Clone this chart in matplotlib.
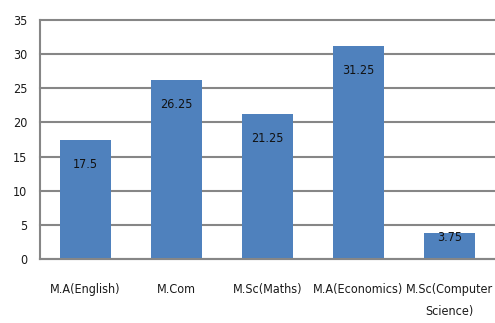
import matplotlib
matplotlib.use("Agg")
import matplotlib.pyplot as plt

# course wise values
courses = ["M.A(English)", "M.Com", "M.Sc(Maths)", "M.A(Economics)",
           "M.Sc(Computer\nScience)"]
values = [17.5, 26.25, 21.25, 31.25, 3.75]
labels = ["17.5", "26.25", "21.25", "31.25", "3.75"]
yticks = [0, 5, 10, 15, 20, 25, 30, 35]

plt.rcParams["font.family"] = ["DejaVu Sans"]
plt.rcParams["font.stretch"] = "condensed"

fig = plt.figure(figsize=(4.95, 3.23), dpi=100)
ax = fig.add_axes([40 / 495, 64 / 323, 455 / 495, 239 / 323])

x = list(range(len(courses)))
bars = ax.bar(x, values, width=0.56, color="#4F81BD", zorder=2)

for b, lab, v in zip(bars, labels, values):
    off = -4 if v < 5 else -25
    ax.annotate(lab, (b.get_x() + b.get_width() / 2, v),
                xytext=(0, off * 0.72), textcoords="offset points",
                ha="center", va="center", fontsize=9, color="#111111")

ax.set_xlim(-0.5, 4.5)
ax.set_ylim(0, 35)
ax.set_yticks(yticks)
ax.set_xticks(x)
ax.set_xticklabels(courses, fontsize=9, color="#1a1a1a", linespacing=1.9,
                   va="top")
ax.tick_params(axis="both", length=0, labelsize=9, labelcolor="#1a1a1a")
ax.tick_params(axis="x", pad=17)
ax.tick_params(axis="y", pad=9)
ax.grid(axis="y", color="#868686", linewidth=1.5, zorder=0)
for gl in ax.get_ygridlines():
    gl.set_clip_on(False)
for s in ["top", "right"]:
    ax.spines[s].set_visible(False)
ax.spines["left"].set_color("#868686")
ax.spines["left"].set_linewidth(1.5)
ax.spines["bottom"].set_color("#868686")
ax.spines["bottom"].set_linewidth(1.5)

fig.savefig("out.png", dpi=100)
